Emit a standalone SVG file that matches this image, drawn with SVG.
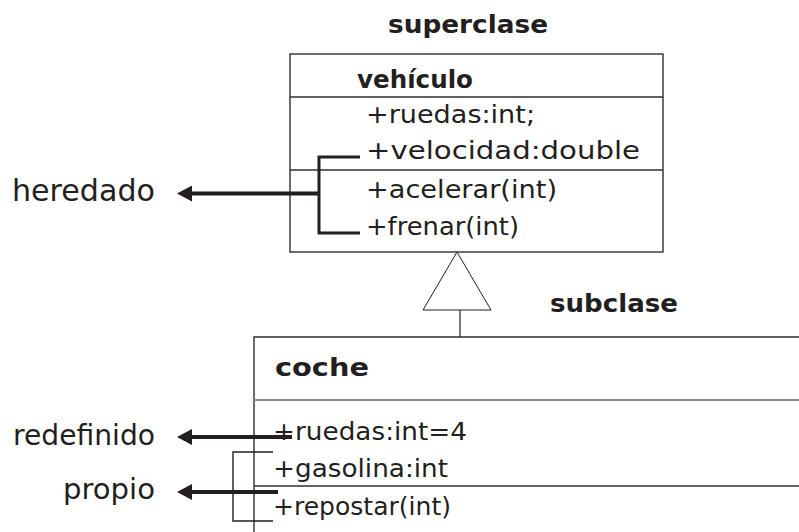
<svg xmlns="http://www.w3.org/2000/svg" width="799" height="532" viewBox="0 0 799 532">
<style>
text{font-family:"DejaVu Sans","Liberation Sans",sans-serif;fill:#231f20}
.b{font-weight:bold}
.m{font-size:24px}
.lbl{font-size:28px}
.box{fill:none;stroke:#2f2f2f;stroke-width:1.4}
.div2{stroke:#8a8a8a;stroke-width:2}
.thick{stroke:#231f20;stroke-width:4;fill:none}
.br{stroke:#231f20;stroke-width:3;fill:none}
.thin{stroke:#231f20;stroke-width:1.4;fill:none}
</style>
<defs>
<marker id="ah" markerUnits="userSpaceOnUse" viewBox="0 0 15 16" markerWidth="15" markerHeight="16" refX="7" refY="8" orient="auto">
<path d="M0,0 L15,8 L0,16 z" fill="#231f20"/>
</marker>
</defs>
<rect width="799" height="532" fill="#fff"/>

<g id="superclase-label">
<text class="b" x="388" y="33" font-size="24" textLength="160" lengthAdjust="spacingAndGlyphs">superclase</text>
</g>
<g id="subclase-label">
<text class="b" x="550" y="312" font-size="24" textLength="128" lengthAdjust="spacingAndGlyphs">subclase</text>
</g>

<g id="vehiculo">
<rect class="box" x="290" y="54" width="373" height="198"/>
<line class="box" x1="290" y1="97" x2="663" y2="97"/>
<line class="box" x1="290" y1="170" x2="663" y2="170"/>
<text class="b" x="357" y="88" font-size="25" textLength="116" lengthAdjust="spacingAndGlyphs">vehículo</text>
<text class="m" x="366" y="123" textLength="169" lengthAdjust="spacingAndGlyphs">+ruedas:int;</text>
<text class="m" x="366" y="159" textLength="274" lengthAdjust="spacingAndGlyphs">+velocidad:double</text>
<text class="m" x="366" y="198" textLength="191" lengthAdjust="spacingAndGlyphs">+acelerar(int)</text>
<text class="m" x="366" y="235" textLength="153" lengthAdjust="spacingAndGlyphs">+frenar(int)</text>
</g>

<g id="coche">
<path class="box" d="M799,337 H254 V532"/>
<line class="div2" x1="254" y1="400" x2="799" y2="400"/>
<line class="box" x1="254" y1="486" x2="799" y2="486"/>
<text class="b" x="275" y="376" font-size="25" textLength="94" lengthAdjust="spacingAndGlyphs">coche</text>
<text class="m" x="273" y="440" textLength="194" lengthAdjust="spacingAndGlyphs">+ruedas:int=4</text>
<text class="m" x="273" y="477" textLength="175" lengthAdjust="spacingAndGlyphs">+gasolina:int</text>
<text class="m" x="273" y="515" textLength="178" lengthAdjust="spacingAndGlyphs">+repostar(int)</text>
</g>

<g id="heredado">
<text x="12" y="201" font-size="30" textLength="143" lengthAdjust="spacingAndGlyphs">heredado</text>
</g>
<g id="redefinido">
<text class="lbl" x="13" y="445" font-size="27" textLength="142" lengthAdjust="spacingAndGlyphs">redefinido</text>
</g>
<g id="propio">
<text class="lbl" x="63" y="499" font-size="27" textLength="92" lengthAdjust="spacingAndGlyphs">propio</text>
</g>

<g id="connectors">
<path class="br" d="M360,157 H319 V233 H360"/>
<line class="thick" x1="320" y1="193.5" x2="185" y2="193.5" marker-end="url(#ah)"/>
<path class="thin" d="M273,452 H233 V521 H273"/>
<line class="thick" x1="292" y1="437" x2="185" y2="437" marker-end="url(#ah)"/>
<line class="thick" x1="278" y1="492" x2="185" y2="492" marker-end="url(#ah)"/>
<polygon points="457,252 423,310 491,310" fill="#fff" stroke="#231f20" stroke-width="1"/>
<line x1="460" y1="310" x2="460" y2="337" stroke="#231f20" stroke-width="1.2"/>
</g>
</svg>
